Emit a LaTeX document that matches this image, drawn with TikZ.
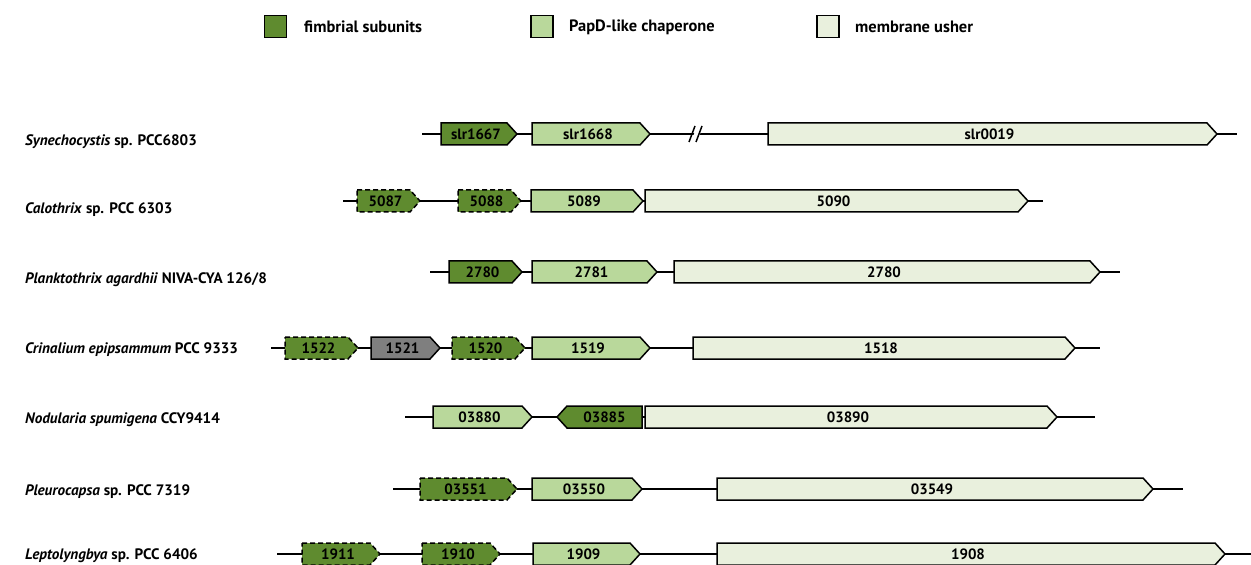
\documentclass[tikz,border=0pt]{standalone}
\usepackage{fontspec}
\setmainfont{PT Sans}
\definecolor{fimb}{HTML}{5F8B2F}
\definecolor{chap}{HTML}{B9D89B}
\definecolor{ush}{HTML}{E9F0DD}
\definecolor{othergene}{HTML}{7F7F7F}

%%% gene arrow: name, left end, tip, row, style, label
\newcommand{\gene}[6]{%
  \draw[#5] (#2,#4-11) -- (#3-10,#4-11) -- (#3,#4) -- (#3-10,#4+11) -- (#2,#4+11) -- cycle;
  \node[genetext] (#1) at ({(#2+#3-10)/2+2},#4) {#6};
}
%%% gene on the other strand: name, tip, right end, row, style, label
\newcommand{\revgene}[6]{%
  \draw[#5] (#3,#4-11) -- (#2+10,#4-11) -- (#2,#4) -- (#2+10,#4+11) -- (#3,#4+11) -- cycle;
  \node[genetext] (#1) at ({(#2+10+#3)/2},#4) {#6};
}

\begin{document}
\begin{tikzpicture}[x=1bp,y=-1bp,
  dna/.style={line width=1.5bp},
  gn/.style={draw,line width=1.5bp,line join=miter},
  fimbrial/.style={gn,fill=fimb},
  dashfimbrial/.style={fimbrial,dash pattern=on 5bp off 3bp},
  chaperone/.style={gn,fill=chap},
  usher/.style={gn,fill=ush},
  unknown/.style={gn,fill=othergene},
  genetext/.style={font=\bfseries\fontsize{15}{17}\selectfont,inner sep=0pt},
  species/.style={anchor=west,inner sep=0pt,font=\bfseries\fontsize{15.2}{17}\selectfont},
  keybox/.style={draw,line width=1.5bp,minimum size=22bp,inner sep=0pt},
  keytext/.style={anchor=west,inner sep=0pt,font=\bfseries\fontsize{16.5}{18}\selectfont}]
\useasboundingbox (0,0) rectangle (1251,565);

%%% legend
\node[keybox,fill=fimb] (kfimb) at (275.5,26.5) {};
\node[keytext] (lfimb) at (304,27) {fimbrial subunits};
\node[keybox,fill=chap] (kchap) at (542,26.5) {};
\node[keytext] (lchap) at (569,27) {PapD-like chaperone};
\node[keybox,fill=ush] (kush) at (828,26.5) {};
\node[keytext] (lush) at (855,27) {membrane usher};

%%% species names
\node[species] (sp1) at (25,142) {\textit{Synechocystis} sp. PCC6803};
\node[species] (sp2) at (25,210) {\textit{Calothrix} sp. PCC 6303};
\node[species] (sp3) at (25,280) {\textit{Planktothrix agardhii} NIVA-CYA 126/8};
\node[species] (sp4) at (25,350) {\textit{Crinalium epipsammum} PCC 9333};
\node[species] (sp5) at (25,420) {\textit{Nodularia spumigena} CCY9414};
\node[species] (sp6) at (25,492) {\textit{Pleurocapsa} sp. PCC 7319};
\node[species] (sp7) at (25,556) {\textit{Leptolyngbya} sp. PCC 6406};

%%% backbones
\coordinate (r1a) at (422,134);  \coordinate (r1b) at (1237,134);
\coordinate (r2a) at (343,201);  \coordinate (r2b) at (1043,201);
\coordinate (r3a) at (430,272);  \coordinate (r3b) at (1120,272);
\coordinate (r4a) at (271,348);  \coordinate (r4b) at (1100,348);
\coordinate (r5a) at (405,417);  \coordinate (r5b) at (1095,417);
\coordinate (r6a) at (393,489);  \coordinate (r6b) at (1183,489);
\coordinate (r7a) at (277,554);  \coordinate (r7b) at (1251,554);
\foreach \r in {1,...,7}
  \draw[dna] (r\r a) -- (r\r b);

%%% break mark in row 1
\fill[white] (691,141) -- (697,127) -- (703,127) -- (697,141) -- cycle;
\draw[dna] (689,142) -- (695,126);
\draw[dna] (696,142) -- (702,126);

%%% Synechocystis
\gene{slr1667}{441}{517}{134}{fimbrial}{slr1667}
\gene{slr1668}{532}{650}{134}{chaperone}{slr1668}
\gene{slr0019}{768}{1217}{134}{usher}{slr0019}

%%% Calothrix
\gene{c5087}{357}{420}{201}{dashfimbrial}{5087}
\gene{c5088}{458}{521}{201}{dashfimbrial}{5088}
\gene{c5089}{531}{643}{201}{chaperone}{5089}
\gene{c5090}{645}{1028}{201}{usher}{5090}

%%% Planktothrix
\gene{p2780}{449}{522}{272}{fimbrial}{2780}
\gene{p2781}{532}{657}{272}{chaperone}{2781}
\gene{p2780u}{674}{1100}{272}{usher}{2780}

%%% Crinalium
\gene{c1522}{285}{358}{348}{dashfimbrial}{1522}
\gene{c1521}{371}{440}{348}{unknown}{1521}
\gene{c1520}{452}{525}{348}{dashfimbrial}{1520}
\gene{c1519}{532}{650}{348}{chaperone}{1519}
\gene{c1518}{693}{1075}{348}{usher}{1518}

%%% Nodularia
\gene{n03880}{433}{532}{417}{chaperone}{03880}
\revgene{n03885}{557}{642}{417}{fimbrial}{03885}
\gene{n03890}{645}{1057}{417}{usher}{03890}

%%% Pleurocapsa
\gene{p03551}{420}{517}{489}{dashfimbrial}{03551}
\gene{p03550}{532}{642}{489}{chaperone}{03550}
\gene{p03549}{717}{1153}{489}{usher}{03549}

%%% Leptolyngbya
\gene{l1911}{302}{380}{554}{dashfimbrial}{1911}
\gene{l1910}{422}{500}{554}{dashfimbrial}{1910}
\gene{l1909}{533}{640}{554}{chaperone}{1909}
\gene{l1908}{717}{1225}{554}{usher}{1908}
\end{tikzpicture}
\end{document}
